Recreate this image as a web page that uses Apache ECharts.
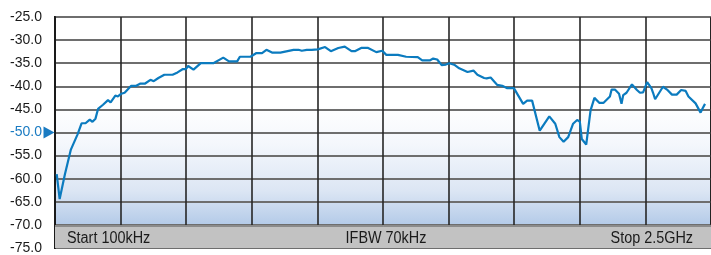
<!DOCTYPE html>
<html><head><meta charset="utf-8">
<script src="https://cdn.jsdelivr.net/npm/echarts@6/dist/echarts.min.js"></script>
<style>html,body{margin:0;padding:0;background:#fff}#c{width:711px;height:255px}</style>
</head><body><div id="c"></div>
<script>
// x positions in grid divisions (0 = Start 100kHz, 10 = Stop 2.5GHz)
const xDiv = [0.026,0.071,0.152,0.242,0.344,0.405,0.465,0.530,0.571,0.617,0.656,0.732,0.808,0.848,0.920,0.959,1.011,1.061,1.162,1.238,1.303,1.374,1.455,1.505,1.576,1.667,1.792,1.868,1.944,1.995,2.030,2.111,2.223,2.414,2.565,2.652,2.777,2.818,2.980,3.071,3.156,3.223,3.308,3.435,3.636,3.712,3.762,3.838,3.914,3.939,4.005,4.117,4.205,4.318,4.417,4.520,4.571,4.667,4.773,4.898,4.989,5.050,5.227,5.353,5.530,5.598,5.712,5.765,5.826,5.894,5.959,6.011,6.095,6.162,6.288,6.379,6.439,6.541,6.580,6.641,6.742,6.818,6.894,6.995,7.136,7.197,7.273,7.389,7.535,7.626,7.689,7.753,7.823,7.898,7.959,8.000,8.030,8.098,8.164,8.223,8.300,8.359,8.459,8.485,8.535,8.598,8.636,8.662,8.712,8.795,8.871,8.917,8.965,9.027,9.091,9.117,9.148,9.268,9.329,9.405,9.477,9.545,9.614,9.656,9.765,9.841,9.871,9.909];
const levelDb = [-59.0,-64.4,-59.0,-53.7,-50.4,-48.0,-48.0,-47.2,-47.7,-47.0,-44.9,-44.0,-43.0,-43.5,-42.0,-42.2,-41.6,-41.4,-39.9,-39.9,-39.4,-39.4,-38.6,-38.9,-38.2,-37.5,-37.5,-37.0,-36.3,-36.3,-35.6,-36.4,-35.0,-35.0,-33.8,-34.6,-34.6,-33.6,-33.6,-32.8,-32.8,-32.1,-32.7,-32.7,-32.1,-32.1,-32.3,-32.1,-32.1,-32.5,-32.0,-31.5,-32.4,-31.7,-31.4,-32.4,-32.4,-31.7,-31.7,-32.6,-32.3,-33.2,-33.2,-33.6,-33.7,-34.4,-34.4,-34.0,-34.2,-35.4,-35.3,-35.0,-35.4,-36.1,-36.9,-36.6,-37.5,-38.2,-38.3,-38.1,-39.7,-39.9,-40.4,-40.4,-43.8,-43.1,-43.1,-49.6,-46.5,-48.1,-51.0,-52.0,-51.0,-48.1,-47.3,-47.6,-51.4,-52.6,-45.2,-42.5,-43.6,-43.6,-42.2,-40.7,-40.7,-41.6,-43.8,-41.9,-41.4,-39.6,-40.8,-41.4,-41.3,-39.1,-40.4,-41.4,-42.8,-40.1,-40.7,-41.8,-41.8,-40.8,-41.0,-42.2,-43.7,-45.7,-44.8,-43.8];
const yTicks = [-75,-70,-65,-60,-55,-50,-45,-40,-35,-30,-25];
const refLevel = -50;
const barTexts = ['Start 100kHz','IFBW 70kHz','Stop 2.5GHz'];

const chart = echarts.init(document.getElementById('c'), null, {renderer:'canvas'});
const data = xDiv.map((x,i)=>[x, levelDb[i]]);
const G = {left:55, top:17, width:660, height:232};
const barY = G.top + G.height*(1-( -72.5 - yTicks[0])/(yTicks[yTicks.length-1]-yTicks[0]));
const barFont = '16px "Liberation Sans", Arial, sans-serif';
chart.setOption({
  animation:false,
  backgroundColor:'#ffffff',
  grid:{left:G.left, top:G.top, width:G.width, height:G.height, show:true, borderColor:'#1a1a1a', borderWidth:2,
    backgroundColor:{type:'linear',x:0,y:0,x2:0,y2:1,colorStops:[
      {offset:0,color:'#ffffff'},{offset:0.38,color:'#ffffff'},{offset:0.55,color:'#f4f7fc'},
      {offset:0.75,color:'#dce6f4'},{offset:0.9,color:'#b3cae8'},{offset:1,color:'#8aafdb'}]}},
  xAxis:{type:'value', min:0, max:10, interval:1, axisLine:{show:false}, axisTick:{show:false}, axisLabel:{show:false},
    splitLine:{show:true, lineStyle:{color:'#262626', width:1.6}}},
  yAxis:{type:'value', min:-75, max:-25, interval:5,
    axisLine:{show:true, lineStyle:{color:'#1a1a1a', width:2}}, axisTick:{show:false},
    axisLabel:{margin:13, fontFamily:'Liberation Sans, Arial, sans-serif', fontSize:14, color:'#1a1a1a',
      formatter:v=> v===refLevel ? '{r|'+v.toFixed(1)+'}' : v.toFixed(1),
      rich:{r:{color:'#1a7bc2', fontSize:14, fontFamily:'Liberation Sans, Arial, sans-serif'}}},
    splitLine:{show:true, lineStyle:{color:'#6e6e6e', width:2}}},
  series:[{type:'line', data:data, symbol:'none', clip:false,
    lineStyle:{color:'#0b7bbf', width:2.2},
    markArea:{silent:true, itemStyle:{color:'#c2c2c2', borderWidth:0},
      data:[[{coord:[0,-75]},{coord:[10,-70]}]]},
    markPoint:{silent:true, symbol:'triangle', symbolRotate:-90, symbolSize:[12,11], symbolOffset:[-6,0],
      itemStyle:{color:'#1a7bc2'}, label:{show:false}, data:[{coord:[0, refLevel]}]}
  }],
  graphic:[
    {type:'line', z:10, shape:{x1:G.left, y1:226, x2:G.left+G.width, y2:226}, style:{stroke:'#555', lineWidth:1}},
    {type:'text', z:10, x:67, y:barY+1, scaleX:0.9, style:{text:barTexts[0], align:'left', verticalAlign:'middle', font:barFont, fill:'#1a1a1a'}},
    {type:'text', z:10, x:386, y:barY+1, scaleX:0.9, style:{text:barTexts[1], align:'center', verticalAlign:'middle', font:barFont, fill:'#1a1a1a'}},
    {type:'text', z:10, x:693, y:barY+1, scaleX:0.9, style:{text:barTexts[2], align:'right', verticalAlign:'middle', font:barFont, fill:'#1a1a1a'}}
  ]
});
</script></body></html>
